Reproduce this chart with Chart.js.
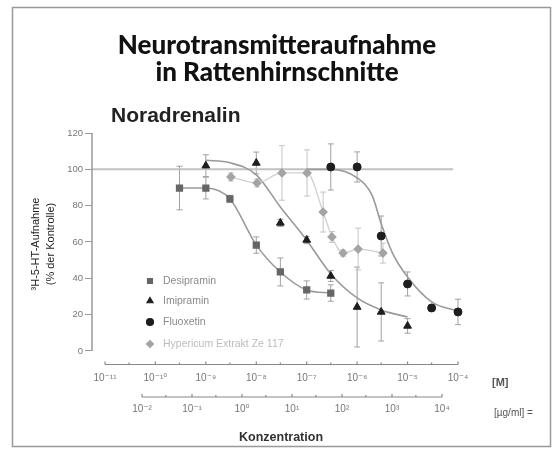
<!DOCTYPE html>
<html>
<head>
<meta charset="utf-8">
<script src="https://cdn.jsdelivr.net/npm/chart.js@4.4.1/dist/chart.umd.min.js"></script>
<style>
  html, body { margin: 0; padding: 0; background: #fff; }
  #wrap { width: 555px; height: 464px; }
</style>
</head>
<body>
<div id="wrap"><canvas id="chart" width="555" height="464"></canvas></div>
<script>
// Desipramin (M)
const desiX = [3e-10, 1e-9, 3e-9, 1e-8, 3e-8, 1e-7, 3e-7];
const desiY = [89.7, 89.7, 83.7, 58.3, 43.5, 33.6, 31.9];
const desiErr = [12, 6, 2, 4.5, 7.7, 5, 4.5];

// Imipramin (M) + fitted curve
const imiX = [1e-9, 1e-8, 3e-8, 1e-7, 3e-7, 1e-6, 3e-6, 1e-5];
const imiY = [102, 103.5, 70.5, 61.1, 41.3, 24.2, 21.5, 13.8];
const imiErr = [6, 6, 2, 2, 3, 22, 16, 4];
const imiFitX = [1e-9, 3e-9, 1e-8, 3e-8, 1e-7, 3e-7, 1e-6, 3e-6, 1e-5];
const imiFitY = [105, 103.6, 97, 79.3, 61, 42.4, 29.2, 22.6, 18.7];

// Fluoxetin (M) + fitted curve
const fluX = [3e-7, 1e-6, 3e-6, 1e-5, 3e-5, 1e-4];
const fluY = [101.3, 101.3, 63.3, 36.9, 23.7, 21.5];
const fluErr = [12.7, 8.3, 11, 6.6, 1.7, 7];
const fluFitX = [1e-7, 3e-7, 1e-6, 2e-6, 3e-6, 5e-6, 1e-5, 3e-5, 1e-4];
const fluFitY = [100, 100, 95.3, 85.4, 70, 54, 40.7, 27, 22];

// Hypericum Extrakt Ze 117 (µg/ml)
const hypX = [0.6, 2, 6.3, 20, 42, 63, 105, 210, 660];
const hypY = [95.8, 92.5, 98, 98, 76.5, 62.8, 53.9, 56.1, 53.9];
const hypErr = [2.2, 2.2, 15, 12.7, 11, 3, 1.7, 11.5, 5.5];

// control level line
const controlX = [5.52e-12, 8e-5];
const controlY = [100, 100];

const molarTicks = [1e-11, 1e-10, 1e-9, 1e-8, 1e-7, 1e-6, 1e-5, 1e-4];
const massTicks = [1e-2, 1e-1, 1e0, 1e1, 1e2, 1e3, 1e4];
const yTicks = [0, 20, 40, 60, 80, 100, 120];

const SUP = { '-': '\u207B', '0': '\u2070', '1': '\u00B9', '2': '\u00B2', '3': '\u00B3',
  '4': '\u2074', '5': '\u2075', '6': '\u2076', '7': '\u2077', '8': '\u2078', '9': '\u2079' };
const pow10 = v => '10' + String(Math.round(Math.log10(v))).split('').map(c => SUP[c]).join('');
const pts = (xs, ys) => xs.map((x, i) => ({ x: x, y: ys[i] }));

const SANS = '"Liberation Sans", "DejaVu Sans", sans-serif';

const errorBars = {
  id: 'errorBars',
  beforeDatasetsDraw(chart) {
    const ctx = chart.ctx;
    chart.data.datasets.forEach((ds, i) => {
      if (!ds.errors) return;
      const meta = chart.getDatasetMeta(i);
      const ys = chart.scales[meta.yAxisID];
      ctx.save();
      ctx.strokeStyle = ds.errorColor;
      ctx.lineWidth = 1;
      meta.data.forEach((pt, j) => {
        const v = ds.data[j].y, e = ds.errors[j];
        const top = ys.getPixelForValue(v + e), bot = ys.getPixelForValue(v - e);
        ctx.beginPath();
        ctx.moveTo(pt.x, top); ctx.lineTo(pt.x, bot);
        ctx.moveTo(pt.x - 3, top); ctx.lineTo(pt.x + 3, top);
        ctx.moveTo(pt.x - 3, bot); ctx.lineTo(pt.x + 3, bot);
        ctx.stroke();
      });
      ctx.restore();
    });
  }
};

const decorations = {
  id: 'decorations',
  afterDraw(chart) {
    const ctx = chart.ctx;
    const { x, x2, y } = chart.scales;
    const area = chart.chartArea;
    ctx.save();

    // frame
    ctx.strokeStyle = '#999';
    ctx.lineWidth = 1.5;
    ctx.strokeRect(12.5, 7.5, 538, 439);

    // titles
    ctx.fillStyle = '#111';
    ctx.textAlign = 'center';
    ctx.textBaseline = 'middle';
    ctx.font = '900 26px Lato, ' + SANS;
    ctx.fillText('Neurotransmitteraufnahme', 277, 46);
    ctx.fillText('in Rattenhirnschnitte', 277, 73);
    ctx.textAlign = 'left';
    ctx.fillStyle = '#222';
    ctx.font = 'bold 21px ' + SANS;
    ctx.fillText('Noradrenalin', 111, 116);

    // y axis line
    ctx.strokeStyle = '#999';
    ctx.lineWidth = 1.5;
    ctx.beginPath();
    ctx.moveTo(area.left, y.getPixelForValue(yTicks[yTicks.length - 1]));
    ctx.lineTo(area.left, y.getPixelForValue(yTicks[0]));
    ctx.stroke();

    // concentration axes
    const axisLine = (scale, ticks, yy) => {
      const a = scale.getPixelForValue(ticks[0]);
      const b = scale.getPixelForValue(ticks[ticks.length - 1]);
      ctx.beginPath();
      ctx.moveTo(a, yy); ctx.lineTo(b, yy);
      ticks.forEach((t, k) => {
        const p = scale.getPixelForValue(t);
        ctx.moveTo(p, yy); ctx.lineTo(p, yy - 3);
        if (k < ticks.length - 1) {
          const h = scale.getPixelForValue(t * 3);
          ctx.moveTo(h, yy); ctx.lineTo(h, yy - 2);
        }
      });
      ctx.stroke();
    };
    ctx.lineWidth = 1.2;
    ctx.strokeStyle = '#888';
    axisLine(x, molarTicks, x.top - 1.5);
    axisLine(x2, massTicks, x2.top);

    // unit labels
    ctx.fillStyle = '#555';
    ctx.font = 'bold 11px ' + SANS;
    ctx.fillText('[M]', 492, x.top + 17);
    ctx.font = '10px ' + SANS;
    ctx.fillText('[\u00B5g/ml] =', 494, x2.top + 16);

    // y title
    ctx.save();
    ctx.translate(36, 244);
    ctx.rotate(-Math.PI / 2);
    ctx.textAlign = 'center';
    ctx.fillStyle = '#222';
    ctx.font = '11px ' + SANS;
    ctx.fillText('\u00B3H-5-HT-Aufnahme', 0, 0);
    ctx.fillText('(% der Kontrolle)', 0, 15);
    ctx.restore();

    // legend
    const lx = 150;
    const rows = [281, 301, 322, 344];
    let r = 0;
    chart.data.datasets.forEach(ds => {
      if (!ds.inLegend) return;
      const ly = rows[r++];
      ctx.fillStyle = ds.pointBackgroundColor;
      ctx.strokeStyle = ds.pointBackgroundColor;
      Chart.helpers.drawPoint(ctx, { pointStyle: ds.pointStyle, radius: 3.5, borderWidth: 1, rotation: 0 }, lx, ly);
      ctx.fillStyle = ds.legendTextColor;
      ctx.font = '10.5px ' + SANS;
      ctx.textAlign = 'left';
      ctx.fillText(ds.label, lx + 13, ly);
    });

    ctx.restore();
  }
};

new Chart(document.getElementById('chart'), {
  type: 'scatter',
  data: {
    datasets: [
      {
        label: 'Desipramin', data: pts(desiX, desiY), errors: desiErr, errorColor: '#a0a0a0',
        showLine: true, borderColor: '#9a9a9a', borderWidth: 1.6, cubicInterpolationMode: 'monotone',
        pointStyle: 'rect', pointRadius: 4, pointBackgroundColor: '#666', pointBorderColor: '#666',
        inLegend: true, legendTextColor: '#8a8a8a', order: 0
      },
      {
        label: 'Imipramin', data: pts(imiX, imiY), errors: imiErr, errorColor: '#a0a0a0',
        pointStyle: 'triangle', pointRadius: 4.5, pointBackgroundColor: '#1e1e1e', pointBorderColor: '#1e1e1e',
        inLegend: true, legendTextColor: '#8a8a8a', order: 0
      },
      {
        label: 'Fluoxetin', data: pts(fluX, fluY), errors: fluErr, errorColor: '#a0a0a0',
        pointStyle: 'circle', pointRadius: 4, pointBackgroundColor: '#1e1e1e', pointBorderColor: '#1e1e1e',
        inLegend: true, legendTextColor: '#8a8a8a', order: 0
      },
      {
        label: 'Hypericum Extrakt Ze 117', data: pts(hypX, hypY), errors: hypErr, errorColor: '#c4c4c4',
        xAxisID: 'x2', showLine: true, borderColor: '#cfcfcf', borderWidth: 1.2, cubicInterpolationMode: 'monotone',
        pointStyle: 'rectRot', pointRadius: 4, pointBackgroundColor: '#a4a4a4', pointBorderColor: '#a4a4a4',
        inLegend: true, legendTextColor: '#bcbcbc', order: 0
      },
      {
        label: 'Imipramin Fit', data: pts(imiFitX, imiFitY), showLine: true, pointRadius: 0,
        borderColor: '#9a9a9a', borderWidth: 1.6, cubicInterpolationMode: 'monotone', order: 1
      },
      {
        label: 'Fluoxetin Fit', data: pts(fluFitX, fluFitY), showLine: true, pointRadius: 0,
        borderColor: '#9a9a9a', borderWidth: 1.6, cubicInterpolationMode: 'monotone', order: 1
      },
      {
        label: 'Kontrolle', data: pts(controlX, controlY), showLine: true, pointRadius: 0,
        borderColor: '#c2c2c2', borderWidth: 2, order: 2
      }
    ]
  },
  options: {
    responsive: false,
    animation: false,
    layout: { padding: { top: 133, left: 0, right: 85, bottom: 17 } },
    plugins: { legend: { display: false }, tooltip: { enabled: false } },
    scales: {
      x: {
        type: 'logarithmic', position: 'bottom',
        min: Math.pow(10, -11.2578), max: Math.pow(10, -3.762),
        grid: { display: false, drawTicks: false }, border: { display: false },
        afterBuildTicks: s => { s.ticks = molarTicks.map(v => ({ value: v })); },
        afterFit: s => { s.height = 31; },
        ticks: { callback: v => pow10(v), color: '#777', font: { size: 10, family: SANS }, padding: 6, maxRotation: 0, autoSkip: false }
      },
      x2: {
        type: 'logarithmic', position: 'bottom',
        min: Math.pow(10, -3), max: Math.pow(10, 4.56),
        grid: { display: false, drawTicks: false }, border: { display: false },
        afterBuildTicks: s => { s.ticks = massTicks.map(v => ({ value: v })); },
        afterFit: s => { s.height = 50; },
        ticks: { callback: v => pow10(v), color: '#777', font: { size: 10, family: SANS }, padding: 6, maxRotation: 0, autoSkip: false },
        title: { display: true, text: 'Konzentration', color: '#333', font: { size: 12.5, weight: 'bold', family: SANS }, padding: { top: 0, bottom: 2 } }
      },
      y: {
        min: -8.26, max: 120,
        grid: { drawOnChartArea: false, drawTicks: true, tickLength: 7, color: '#999' },
        border: { display: false },
        afterBuildTicks: s => { s.ticks = yTicks.map(v => ({ value: v })); },
        afterFit: s => { s.width = 92; },
        ticks: { color: '#777', font: { size: 9.5, family: SANS }, padding: 2 }
      }
    }
  },
  plugins: [errorBars, decorations]
});
</script>
</body>
</html>
